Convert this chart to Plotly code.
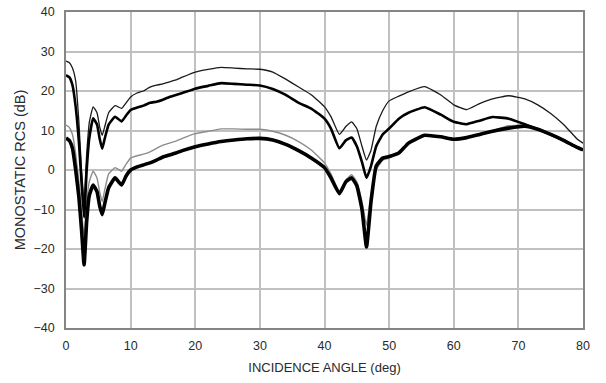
import plotly.graph_objects as go

angle = [0, 0.5, 1, 1.5, 2, 2.4, 2.8, 3.2, 3.6, 4.2, 4.8, 5.2, 5.6, 6.0, 6.6, 7.6, 8.6, 9.3,
         10, 11, 12, 13, 14, 15, 16, 17, 18, 20, 22, 24, 26, 28, 30, 32, 34, 36, 38, 40,
         41, 42.3, 43.3, 44.2, 45, 45.8, 46.5, 47.2, 48, 49, 50, 51.5, 53, 55.5, 58, 60,
         62, 64, 66, 68.5, 71, 73, 75, 77, 79, 80]

rcs_thin_top = [27.6, 27.2, 25.8, 22.5, 12, 0, -8, 4, 12, 16.0, 14.5, 11, 8.8, 11, 14.5, 16.3, 15.6, 17,
                18.5, 19.5, 20, 21, 21.5, 21.8, 22.3, 22.8, 23.5, 24.8, 25.5, 26, 25.8, 25.6, 25.5, 24.8, 23, 21, 19, 16,
                13.5, 9.0, 11, 12.2, 10.5, 6, 2.5, 5, 11, 15, 17.5, 18.7, 19.8, 21.1, 19, 16.5,
                15.3, 16.8, 18, 18.8, 18, 16.5, 14.3, 11.5, 8, 6.8]

rcs_thick_top = [24.0, 23.5, 21.5, 16, 7, -3, -12, 0, 8, 13.1, 11.5, 8, 5.4, 8, 11.5, 13.5, 12.3, 13.8,
                 15.2, 15.8, 16.3, 17, 17.3, 17.8, 18.5, 19, 19.5, 20.6, 21.3, 22, 21.8, 21.6, 21.4, 20.5, 19, 17, 15.5, 13,
                 10.5, 5.5, 7.5, 8.2, 6, 2, -2, 1, 6, 9, 10.5, 13, 14.5, 15.9, 14, 12.2,
                 11.6, 12.5, 13.4, 13, 11.6, 10.3, 9, 7.5, 5.8, 5.1]

rcs_gray_low = [11.4, 10.8, 9, 4, -3, -10, -17, -8, -3, -0.3, -2, -5.5, -8, -5, -1, 0.6, -0.3, 1.5,
                3.0, 3.6, 4, 4.6, 5.5, 6.3, 6.8, 7.3, 8, 9.2, 9.8, 10.4, 10.4, 10.3, 10.3, 9.8, 8.8, 7.2, 5, 1.8,
                -1, -5.5, -2.5, -1.2, -3, -8, -14, -6, 0, 2.5, 3, 4.5, 7, 8.8, 8.5, 8,
                8.3, 9, 10, 11.2, 11.3, 10.4, 9, 7.5, 5.8, 5.1]

rcs_thick_low = [8.1, 7.5, 5.5, 0, -7, -15, -24, -13, -6.5, -3.8, -5.5, -9, -11.3, -8.5, -4.5, -2, -3.8, -1.5,
                 0, 0.8, 1.3, 1.8, 2.5, 3.3, 3.8, 4.3, 4.9, 5.9, 6.6, 7.2, 7.6, 7.9, 8.0, 7.6, 6.5, 4.9, 3, 0.6,
                 -2, -6.0, -3, -2, -4, -10, -19.5, -8, 1, 3, 3.4, 4.3, 6.8, 8.8, 8.4, 7.8,
                 8.2, 9, 9.8, 10.6, 11.1, 10.3, 9, 7.5, 5.8, 5.1]

x_ticks = [0, 10, 20, 30, 40, 50, 60, 70, 80]
y_ticks = [-40, -30, -20, -10, 0, 10, 20, 30, 40]

fig = go.Figure()
fig.add_trace(go.Scatter(x=angle, y=rcs_gray_low, mode="lines",
                         line=dict(color="#8c8c8c", width=1.4, shape="spline", smoothing=0.4)))
fig.add_trace(go.Scatter(x=angle, y=rcs_thin_top, mode="lines",
                         line=dict(color="#1a1a1a", width=1.3, shape="spline", smoothing=0.4)))
fig.add_trace(go.Scatter(x=angle, y=rcs_thick_top, mode="lines",
                         line=dict(color="#000000", width=2.6, shape="spline", smoothing=0.4)))
fig.add_trace(go.Scatter(x=angle, y=rcs_thick_low, mode="lines",
                         line=dict(color="#000000", width=3.6, shape="spline", smoothing=0.4)))

font_family = "Liberation Sans"
fig.update_layout(
    width=606, height=383,
    margin=dict(l=66, r=23, t=12, b=55, autoexpand=False),
    paper_bgcolor="white", plot_bgcolor="white",
    showlegend=False,
    font=dict(family=font_family, size=12, color="#2a2a2a"),
)
fig.update_xaxes(range=[0, 80], tickvals=x_ticks, ticktext=[str(v) for v in x_ticks],
                 showgrid=True, gridcolor="#c0c0c0", gridwidth=1.5,
                 showline=True, linecolor="#858585", linewidth=1.5, mirror=True,
                 zeroline=False, ticks="", ticklabelstandoff=5, automargin=False,
                 ticklabeloverflow="allow", tickfont=dict(size=12.5),
                 title=dict(text="INCIDENCE ANGLE (deg)", font=dict(size=13), standoff=11))
fig.update_yaxes(range=[-40, 40], tickvals=y_ticks,
                 showgrid=True, gridcolor="#c0c0c0", gridwidth=1.5,
                 showline=True, linecolor="#858585", linewidth=1.5, mirror=True,
                 zeroline=False, ticks="", ticklabelstandoff=7, automargin=False,
                 ticklabeloverflow="allow", tickfont=dict(size=12.5),
                 title=dict(text="MONOSTATIC RCS (dB)", font=dict(size=14.5), standoff=4))

fig.write_html("out.html", config={"displayModeBar": False},
               post_script="document.body.style.margin='0';")
